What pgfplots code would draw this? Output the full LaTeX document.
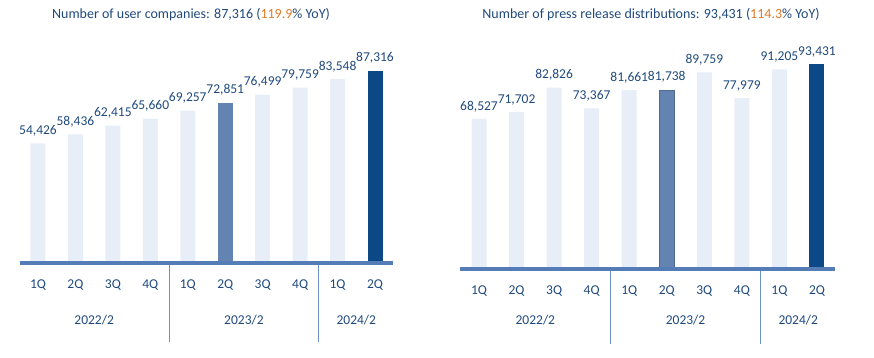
\documentclass[border=0pt]{standalone}
\usepackage{pgfplots}
\pgfplotsset{compat=1.18}
\usepackage{fontspec}
\setmainfont{Carlito}
\definecolor{lightbar}{RGB}{232,238,247}
\definecolor{midbar}{RGB}{99,132,176}
\definecolor{darkbar}{RGB}{12,72,134}
\definecolor{axiscol}{RGB}{84,124,182}
\definecolor{sepcol}{RGB}{110,145,195}
\definecolor{txt}{RGB}{31,73,125}
\definecolor{orng}{RGB}{226,122,40}
\pgfplotsset{
  qbar/.style={
    scale only axis, clip=false, axis on top,
    ymin=0, ymax=100000,
    axis x line=bottom, axis y line=none,
    x axis line style={line width=4pt, color=axiscol, -},
    ytick=\empty,
    xtick={0,...,9},
    xticklabels={1Q,2Q,3Q,4Q,1Q,2Q,3Q,4Q,1Q,2Q},
    major tick length=0pt,
    xticklabel style={font=\fontsize{13.5}{15}\selectfont, text=txt, yshift=-13pt},
    ybar, bar width=15pt,
    nodes near coords,
    every node near coord/.append style={font=\fontsize{13.5}{15}\selectfont, text=txt, inner sep=2pt, anchor=south, yshift=5pt},
    /pgf/number format/.cd, fixed, precision=0, 1000 sep={,}, assume math mode=true,
  }
}
\begin{document}
\begin{tikzpicture}
\useasboundingbox (0,0) rectangle (874pt,357pt);
% Left chart
\begin{axis}[qbar, at={(20pt,94pt)}, anchor=south west, width=373pt, height=220pt,
  xmin=-0.48, xmax=9.48]
\addplot[fill=lightbar, draw=none, bar shift=0pt] coordinates {(0,54426) (1,58436) (2,62415) (3,65660) (4,69257) (6,76499) (7,79759) (8,83548)};
\addplot[fill=midbar, draw=none, bar shift=0pt] coordinates {(5,72851)};
\addplot[fill=darkbar, draw=none, bar shift=0pt] coordinates {(9,87316)};
\draw[sepcol, line width=0.9pt] (axis cs:3.5,0) -- ([yshift=-79pt]axis cs:3.5,0);
\draw[sepcol, line width=0.9pt] (axis cs:7.5,0) -- ([yshift=-79pt]axis cs:7.5,0);
\node[font=\fontsize{13.5}{15}\selectfont, text=txt] at ([yshift=-57pt]axis cs:1.5,0) {2022/2};
\node[font=\fontsize{13.5}{15}\selectfont, text=txt] at ([yshift=-57pt]axis cs:5.5,0) {2023/2};
\node[font=\fontsize{13.5}{15}\selectfont, text=txt] at ([yshift=-57pt]axis cs:8.5,0) {2024/2};
\end{axis}
% Right chart
\begin{axis}[qbar, at={(460pt,88pt)}, anchor=south west, width=375pt, height=219pt,
  xmin=-0.506, xmax=9.48]
\addplot[fill=lightbar, draw=none, bar shift=0pt] coordinates {(0,68527) (1,71702) (2,82826) (3,73367) (4,81661) (6,89759) (7,77979) (8,91205)};
\addplot[fill=midbar, draw=midbar!80!black, line width=0.6pt, bar shift=0pt] coordinates {(5,81738)};
\addplot[fill=darkbar, draw=none, bar shift=0pt] coordinates {(9,93431)};
\draw[sepcol, line width=0.9pt] (axis cs:3.5,0) -- ([yshift=-75pt]axis cs:3.5,0);
\draw[sepcol, line width=0.9pt] (axis cs:7.5,0) -- ([yshift=-75pt]axis cs:7.5,0);
\node[font=\fontsize{13.5}{15}\selectfont, text=txt] at ([yshift=-51pt]axis cs:1.5,0) {2022/2};
\node[font=\fontsize{13.5}{15}\selectfont, text=txt] at ([yshift=-51pt]axis cs:5.5,0) {2023/2};
\node[font=\fontsize{13.5}{15}\selectfont, text=txt] at ([yshift=-51pt]axis cs:8.5,0) {2024/2};
\end{axis}
\node[font=\fontsize{14}{16}\selectfont, text=txt] at (191pt,342pt) {Number of user companies: 87,316 (\textcolor{orng}{119.9}\% YoY)};
\node[font=\fontsize{14}{16}\selectfont, text=txt] at (651pt,342pt) {Number of press release distributions: 93,431 (\textcolor{orng}{114.3}\% YoY)};
\end{tikzpicture}
\end{document}
